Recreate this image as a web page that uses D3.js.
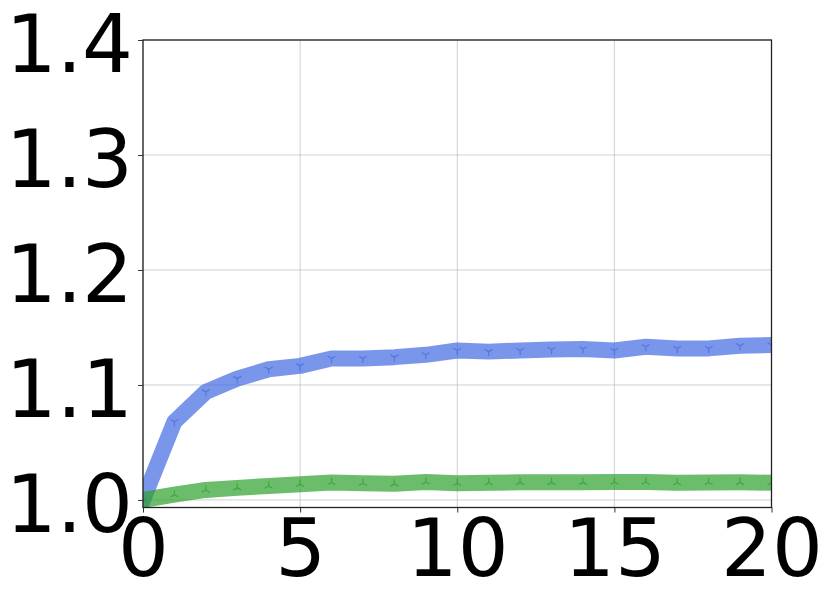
<!DOCTYPE html>
<html>
<head>
<meta charset="utf-8">
<script src="https://cdn.jsdelivr.net/npm/d3@7"></script>
<style>
  html, body { margin: 0; padding: 0; background: #fff; }
  svg { display: block; }
  text { font-family: "DejaVu Sans", sans-serif; }
</style>
</head>
<body>
<svg id="chart" width="831" height="603"></svg>
<script>
const steps = d3.range(0, 21);
const blueValues = [1.0, 1.068, 1.094, 1.1055, 1.1137, 1.1166, 1.123, 1.123, 1.1242, 1.1262, 1.130,
                    1.129, 1.130, 1.1309, 1.1312, 1.130, 1.1332, 1.1318, 1.1318, 1.1341, 1.1347];
const greenValues = [1.0, 1.0046, 1.0087, 1.0105, 1.0122, 1.0137, 1.0151, 1.0145, 1.014, 1.0157, 1.0145,
                     1.015, 1.0153, 1.0153, 1.0153, 1.0157, 1.0157, 1.015, 1.0152, 1.0153, 1.015];
const xTicks = [0, 5, 10, 15, 20];
const yTicks = [1.0, 1.1, 1.2, 1.3, 1.4];

const W = 831, H = 603;
const margin = {left: 143, right: 59.5, top: 40, bottom: 95.5};
const iw = W - margin.left - margin.right;
const ih = H - margin.top - margin.bottom;

const svg = d3.select("#chart");
const g = svg.append("g").attr("transform", `translate(${margin.left},${margin.top})`);

const x = d3.scaleLinear().domain([0, 20]).range([0, iw]);
const y = d3.scaleLinear().domain([0.99344, 1.4]).range([ih, 0]);

svg.append("defs").append("clipPath").attr("id", "clip")
  .append("rect").attr("x", 0).attr("y", 0).attr("width", iw).attr("height", ih);

// grid
g.append("g").selectAll("line").data(xTicks).join("line")
  .attr("x1", d => x(d)).attr("x2", d => x(d)).attr("y1", 0).attr("y2", ih)
  .attr("stroke", "#b0b0b0").attr("stroke-opacity", 0.6).attr("stroke-width", 1);
g.append("g").selectAll("line").data(yTicks).join("line")
  .attr("x1", 0).attr("x2", iw).attr("y1", d => y(d)).attr("y2", d => y(d))
  .attr("stroke", "#b0b0b0").attr("stroke-opacity", 0.6).attr("stroke-width", 1);

const series = [
  {values: blueValues, color: "rgb(65,105,225)", marker: "down"},
  {values: greenValues, color: "rgb(44,160,44)", marker: "up"}
];

const line = d3.line().x((d, i) => x(steps[i])).y(d => y(d));
const plot = g.append("g").attr("clip-path", "url(#clip)");

series.forEach(s => {
  plot.append("path").datum(s.values)
    .attr("d", line)
    .attr("fill", "none")
    .attr("stroke", s.color)
    .attr("stroke-opacity", 0.7)
    .attr("stroke-width", 16)
    .attr("stroke-linejoin", "round")
    .attr("stroke-linecap", "square");
  const r = 4.5;
  const c = Math.cos(Math.PI / 6) * r, h = 0.5 * r;
  const tri = s.marker === "down"
    ? `M0,0L0,${r}M0,0L${-c},${-h}M0,0L${c},${-h}`
    : `M0,0L0,${-r}M0,0L${-c},${h}M0,0L${c},${h}`;
  plot.append("g").selectAll("path").data(s.values).join("path")
    .attr("transform", (d, i) => `translate(${x(steps[i])},${y(d)})`)
    .attr("d", tri)
    .attr("fill", "none")
    .attr("stroke", s.color)
    .attr("stroke-opacity", 0.7)
    .attr("stroke-width", 1.2);
});

// axes
const fs = 80;
const xAxis = g.append("g").attr("transform", `translate(0,${ih})`)
  .call(d3.axisBottom(x).tickValues(xTicks).tickFormat(d3.format("d")).tickSize(5).tickPadding(7));
xAxis.select(".domain").remove();
xAxis.selectAll("line").attr("stroke", "#333").attr("stroke-width", 1);
xAxis.selectAll("text").attr("font-size", fs).attr("fill", "#000").attr("dy", "0.71em");

const yAxis = g.append("g")
  .call(d3.axisLeft(y).tickValues(yTicks).tickFormat(d3.format(".1f")).tickSize(5).tickPadding(5));
yAxis.select(".domain").remove();
yAxis.selectAll("line").attr("stroke", "#333").attr("stroke-width", 1);
yAxis.selectAll("text").attr("font-size", fs).attr("fill", "#000").attr("dy", "0.395em");

// spines
g.append("rect").attr("x", 0).attr("y", 0).attr("width", iw).attr("height", ih)
  .attr("fill", "none").attr("stroke", "#222").attr("stroke-width", 1.3);
</script>
</body>
</html>
